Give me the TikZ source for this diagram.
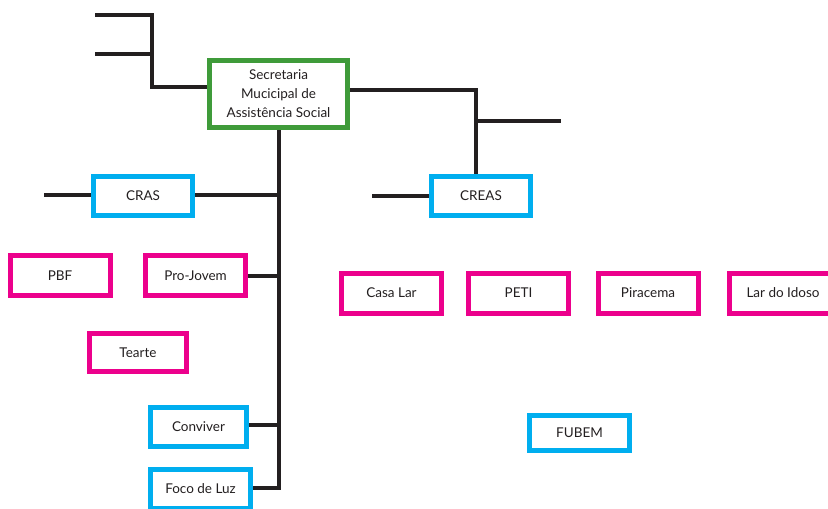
\documentclass[tikz,border=0pt]{standalone}
\usepackage{fontspec}
\setmainfont{Lato}
\definecolor{sgreen}{HTML}{3F9B3A}
\definecolor{scyan}{HTML}{00AEEF}
\definecolor{smag}{HTML}{EC008C}
\definecolor{sblack}{HTML}{231F20}
\begin{document}
\begin{tikzpicture}[x=1pt,y=1pt,
  box/.style={draw, line width=5pt, fill=white, inner sep=0pt, align=center,
    font=\fontsize{13.5}{19}\selectfont, text=sblack},
  greenbox/.style={box, draw=sgreen},
  cyanbox/.style={box, draw=scyan, minimum width=99pt, minimum height=39pt},
  magbox/.style={box, draw=smag, minimum width=100pt, minimum height=40pt},
  conn/.style={draw=sblack, line width=4pt}]
\useasboundingbox (0,0) rectangle (828,-509);
% nodes
\node[greenbox, minimum width=138pt, minimum height=67pt] (sec) at (278.5,-94) {Secretaria\\Mucicipal de\\Assistência Social};
\node[cyanbox] (cras) at (143,-196) {CRAS};
\node[cyanbox] (creas) at (481,-196) {CREAS};
\node[magbox] (pbf) at (60,-275.5) {PBF};
\node[magbox] (projovem) at (195.5,-275.5) {Pro-Jovem};
\node[magbox, minimum width=97pt, minimum height=38pt] (tearte) at (138,-352.5) {Tearte};
\node[cyanbox, minimum width=96pt] (conviver) at (198.5,-427) {Conviver};
\node[cyanbox, minimum width=100pt] (foco) at (200.5,-489) {Foco de Luz};
\node[magbox] (casalar) at (391.5,-293) {Casa Lar};
\node[magbox] (peti) at (518.5,-293) {PETI};
\node[magbox] (piracema) at (648,-293) {Piracema};
\node[magbox, minimum width=108pt] (laridoso) at (783,-293) {Lar do Idoso};
\node[cyanbox, minimum width=100pt, minimum height=35pt] (fubem) at (579.5,-433) {FUBEM};
% junction coordinates
\coordinate (t1) at (95,-15);
\coordinate (t2) at (95,-54);
\coordinate (j1) at (152,-15);
\coordinate (j2) at (152,-54);
\coordinate (j3) at (152,-87);
\coordinate (r1) at (476,-90);
\coordinate (r2) at (476,-121);
\coordinate (r3) at (561,-121);
\coordinate (vend) at (278.5,-490);
\coordinate (cl) at (44,-195);
\coordinate (crl) at (372,-196);
% connectors
\draw[conn] (t1) -- (j1) -- (j3) -- (sec.west |- j3);
\draw[conn] (t2) -- (j2);
\draw[conn] (sec.east |- r1) -- (r1) -- (creas.north -| r1);
\draw[conn] (r2) -- (r3);
\draw[conn] (sec.south) -- (vend);
\draw[conn] (cl) -- (cras.west |- cl);
\draw[conn] (cras.east |- cl) -- (cl -| vend);
\draw[conn] (projovem.east) -- (projovem.east -| vend);
\draw[conn] (conviver.east |- 0,-425) -- (vend |- 0,-425);
\draw[conn] (foco.east |- 0,-488) -- (vend |- 0,-488);
\draw[conn] (crl) -- (creas.west);
\end{tikzpicture}
\end{document}
